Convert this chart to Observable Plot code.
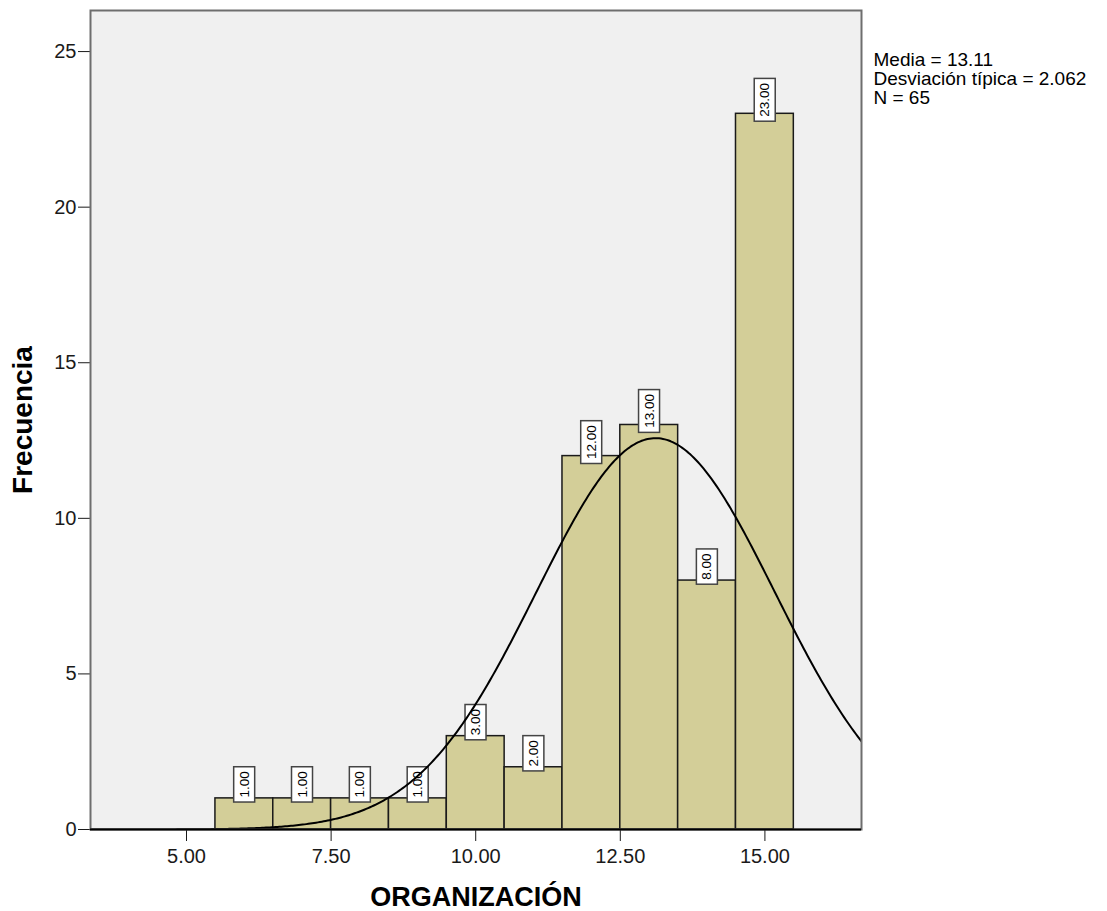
<!DOCTYPE html>
<html>
<head>
<meta charset="utf-8">
<script src="https://cdn.jsdelivr.net/npm/d3@7"></script>
<script src="https://cdn.jsdelivr.net/npm/@observablehq/plot@0.6"></script>
<style>
  body { margin: 0; background: #fff; }
  svg { display: block; }
</style>
</head>
<body>
<div id="chart"></div>
<script>
// Histogram of ORGANIZACIÓN scores with fitted normal curve
const binCenters = [6, 7, 8, 9, 10, 11, 12, 13, 14, 15];
const counts = [1, 1, 1, 1, 3, 2, 12, 13, 8, 23];
const binWidth = 1;
const xTicks = [5, 7.5, 10, 12.5, 15];
const yTicks = [0, 5, 10, 15, 20, 25];
const mean = 13.11;
const sd = 2.062;
const n = 65;
const legendLines = ["Media = 13.11", "Desviación típica = 2.062", "N = 65"];
const xTitle = "ORGANIZACIÓN";
const yTitle = "Frecuencia";

const xDomain = [3.34, 16.67];
const yDomain = [0, 26.32];

const bins = binCenters.map((c, i) => ({
  x1: c - binWidth / 2,
  x2: c + binWidth / 2,
  xc: c,
  count: counts[i],
  label: counts[i].toFixed(2)
}));

// Normal density scaled to counts (N × bin width), from the stated mean and sd
const curve = d3.range(0, 401).map(i => {
  const x = xDomain[0] + (xDomain[1] - xDomain[0]) * i / 400;
  const z = (x - mean) / sd;
  return {x, y: n * binWidth * Math.exp(-z * z / 2) / (sd * Math.sqrt(2 * Math.PI))};
});

const font = "'Liberation Sans', Arial, sans-serif";

const chart = Plot.plot({
  width: 1107,
  height: 911,
  marginLeft: 90,
  marginRight: 246,
  marginTop: 10,
  marginBottom: 82,
  style: {fontFamily: font, fontSize: "20px", background: "#fff", color: "#1a1a1a"},
  x: {domain: xDomain, ticks: xTicks, tickFormat: d => d.toFixed(2), tickSize: 12, tickPadding: 7, label: null},
  y: {domain: yDomain, ticks: yTicks, tickSize: 12, tickPadding: 2, label: null},
  marks: [
    Plot.frame({fill: "#f0f0f0"}),
    Plot.rectY(bins, {x1: "x1", x2: "x2", y: "count", fill: "#d3ce98", stroke: "#1a1a1a", strokeWidth: 1.5}),
    Plot.text(bins, {
      x: "xc", y: "count", text: "label", rotate: -90, dy: -14,
      fontSize: 13.5, fill: "#000", textAnchor: "middle"
    }),
    Plot.line(curve, {x: "x", y: "y", stroke: "#000", strokeWidth: 2, clip: "frame"}),
    Plot.frame({stroke: "#6e6e6e", strokeWidth: 2}),
    Plot.ruleY([0], {stroke: "#000", strokeWidth: 2}),
    Plot.text([legendLines.join("\n")], {
      frameAnchor: "top-right", text: d => d, textAnchor: "start", lineAnchor: "top",
      dx: 12, dy: 42, fontSize: 19, lineHeight: 1.0, fill: "#000"
    }),
    Plot.text([yTitle], {
      frameAnchor: "left", text: d => d, rotate: -90, textAnchor: "middle", lineAnchor: "middle",
      dx: -67, fontSize: 28, fontWeight: "bold", fill: "#000"
    }),
    Plot.text([xTitle], {
      frameAnchor: "bottom", text: d => d, textAnchor: "middle", lineAnchor: "middle",
      dy: 68, fontSize: 27, fontWeight: "bold", fill: "#000"
    })
  ]
});

document.getElementById("chart").append(chart);

// White boxes behind the rotated value labels
const svgNS = "http://www.w3.org/2000/svg";
const valueLabels = new Set(bins.map(d => d.label));
chart.querySelectorAll("text").forEach(t => {
  const tr = t.getAttribute("transform") || "";
  if (!tr.includes("rotate") || !valueLabels.has(t.textContent)) return;
  const b = t.getBBox();
  const padL = 4.5, padH = 3;
  const r = document.createElementNS(svgNS, "rect");
  r.setAttribute("x", b.x - padL);
  r.setAttribute("y", b.y - padH);
  r.setAttribute("width", b.width + 2 * padL);
  r.setAttribute("height", b.height + 2 * padH);
  r.setAttribute("fill", "#fff");
  r.setAttribute("stroke", "#444");
  r.setAttribute("stroke-width", 1.5);
  r.setAttribute("transform", tr);
  t.parentNode.insertBefore(r, t);
});
</script>
</body>
</html>
